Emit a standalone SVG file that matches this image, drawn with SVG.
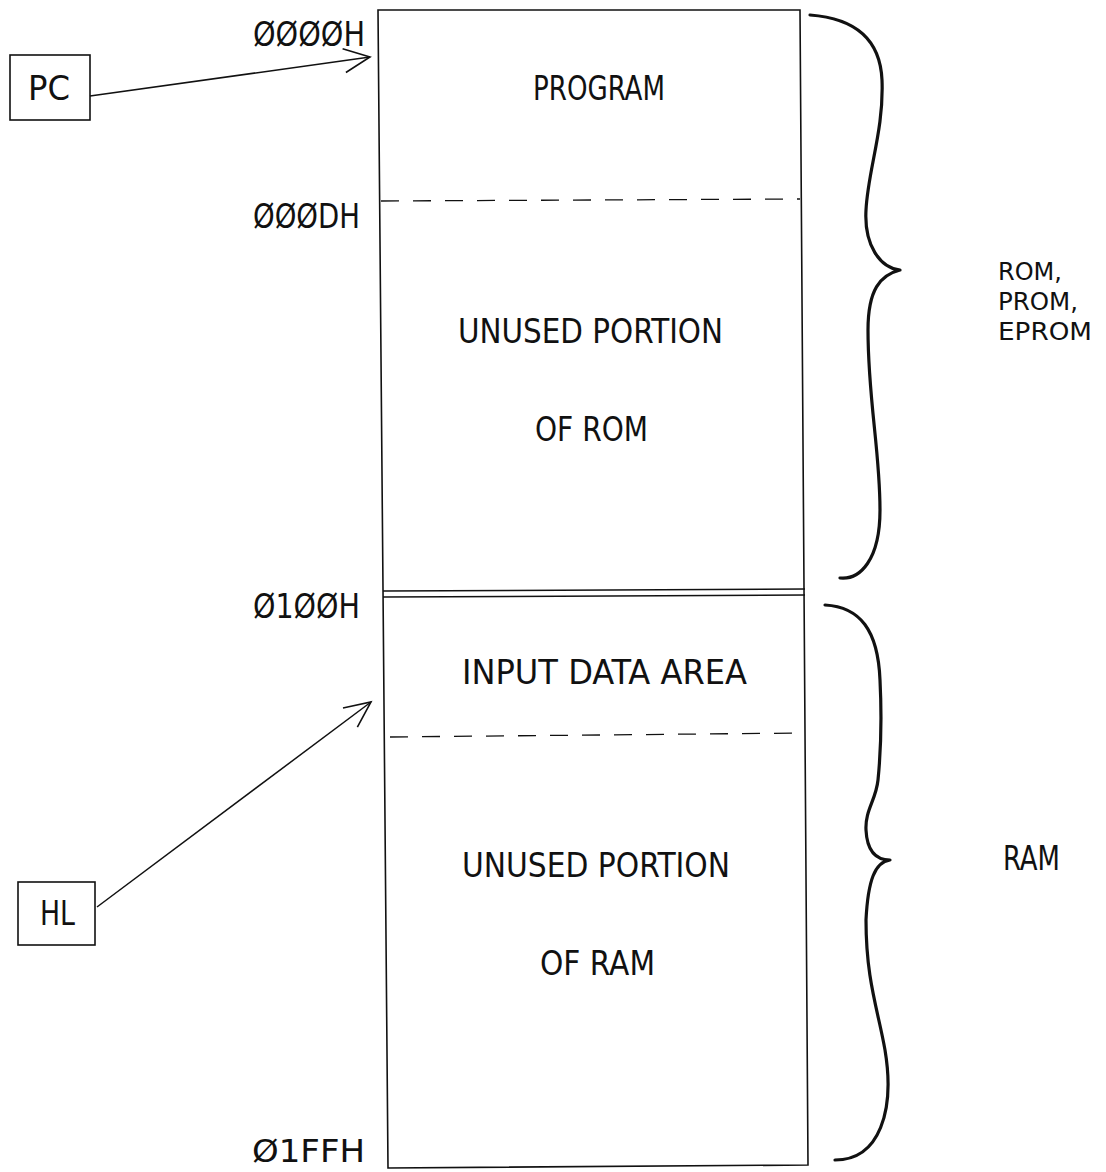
<svg xmlns="http://www.w3.org/2000/svg" width="1106" height="1172" viewBox="0 0 1106 1172">
<style>
.t{font-family:"Liberation Sans Narrow","DejaVu Sans Condensed","Liberation Sans",sans-serif;font-size:34px;fill:#111}
.s{font-size:25px}
.box{fill:none;stroke:#111;stroke-width:1.6}
.ln{fill:none;stroke:#111;stroke-width:1.5}
.dash{fill:none;stroke:#111;stroke-width:1.3;stroke-dasharray:18 14}
.brace{fill:none;stroke:#111;stroke-width:3.2;stroke-linecap:round;stroke-linejoin:round}
</style>
<defs>
<marker id="ah" markerUnits="userSpaceOnUse" markerWidth="34" markerHeight="34" viewBox="0 0 34 34" refX="30" refY="17" orient="auto">
<path d="M4,5 L30,17 L4,29" fill="none" stroke="#111" stroke-width="1.6"/>
</marker>
</defs>
<rect width="1106" height="1172" fill="#fff"/>

<g id="memory">
<path class="box" d="M378,10 L800,10 L808,1165 L388,1168 Z"/>
<path class="dash" d="M381,201 L800,199"/>
<line class="ln" x1="383" y1="591" x2="805" y2="589"/>
<line class="ln" x1="383" y1="597" x2="805" y2="595"/>
<path class="dash" d="M390,737 L805,733"/>
<text class="t" x="533" y="100" textLength="132" lengthAdjust="spacingAndGlyphs">PROGRAM</text>
<text class="t" x="458" y="343" textLength="265" lengthAdjust="spacingAndGlyphs">UNUSED PORTION</text>
<text class="t" x="535" y="441" textLength="113" lengthAdjust="spacingAndGlyphs">OF ROM</text>
<text class="t" x="462" y="684" textLength="285" lengthAdjust="spacingAndGlyphs">INPUT DATA AREA</text>
<text class="t" x="462" y="877" textLength="268" lengthAdjust="spacingAndGlyphs">UNUSED PORTION</text>
<text class="t" x="540" y="975" textLength="115" lengthAdjust="spacingAndGlyphs">OF RAM</text>
</g>

<g id="addresses">
<text class="t" x="253" y="46" textLength="112" lengthAdjust="spacingAndGlyphs">ØØØØH</text>
<text class="t" x="253" y="228" textLength="107" lengthAdjust="spacingAndGlyphs">ØØØDH</text>
<text class="t" x="253" y="618" textLength="107" lengthAdjust="spacingAndGlyphs">Ø1ØØH</text>
<text class="t" x="252" y="1162" style="font-size:32px" textLength="113" lengthAdjust="spacingAndGlyphs">Ø1FFH</text>
</g>

<g id="pc">
<rect class="box" x="10" y="55" width="80" height="65"/>
<text class="t" x="28" y="100" textLength="42" lengthAdjust="spacingAndGlyphs">PC</text>
</g>

<g id="hl">
<rect class="box" x="18" y="882" width="77" height="63"/>
<text class="t" x="40" y="925" textLength="35" lengthAdjust="spacingAndGlyphs">HL</text>
</g>

<g id="brace-rom">
<path class="brace" d="M810,15 C850,18 880,35 882,80 C884,130 868,170 866,210 C864,245 880,268 900,270 C880,275 868,290 868,330 C868,400 880,450 880,510 C880,560 860,580 840,578"/>
<text class="t s" x="998" y="280" textLength="64" lengthAdjust="spacingAndGlyphs">ROM,</text>
<text class="t s" x="998" y="310" textLength="80" lengthAdjust="spacingAndGlyphs">PROM,</text>
<text class="t s" x="998" y="340" textLength="94" lengthAdjust="spacingAndGlyphs">EPROM</text>
</g>

<g id="brace-ram">
<path class="brace" d="M825,605 C860,607 878,630 880,680 C882,720 880,760 878,780 C876,800 865,810 866,830 C867,850 875,860 890,860 C875,862 868,880 866,920 C866,980 878,1010 885,1050 C895,1110 880,1160 835,1160"/>
<text class="t" x="1003" y="870" textLength="57" lengthAdjust="spacingAndGlyphs">RAM</text>
</g>

<g id="connectors">
<path class="ln" d="M90,96 L370,57" marker-end="url(#ah)"/>
<path class="ln" d="M97,907 L371,702" marker-end="url(#ah)"/>
</g>
</svg>
